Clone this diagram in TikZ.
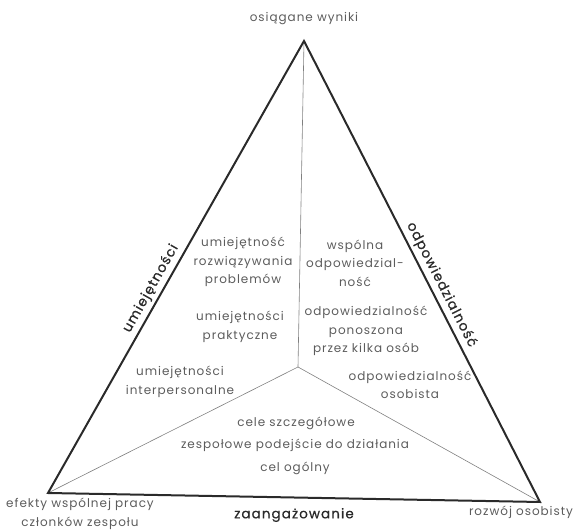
\documentclass[tikz,border=0pt]{standalone}
\usepackage{fontspec}
\setmainfont{Poppins}[LetterSpace=8]
\newfontfamily\tytulfont{Poppins}[LetterSpace=8,FakeBold=0.7]
\usetikzlibrary{positioning}
\definecolor{ctekst}{HTML}{5C5C5C}
\definecolor{cbok}{HTML}{2A2A2A}
\definecolor{clinia}{HTML}{808080}
\tikzset{
  tekst/.style={text=ctekst,align=center,inner sep=1pt,
                font=\fontsize{12}{18.5}\selectfont},
  tytul/.style={text=cbok,inner sep=1pt,font=\tytulfont\fontsize{13.5}{16}\selectfont},
  bok/.style={draw=cbok,line width=2pt,line join=miter},
  linia/.style={draw=clinia,line width=0.6pt},
}

\begin{document}
\begin{tikzpicture}[x=1pt,y=1pt]
\useasboundingbox (0,0) rectangle (574,530);

\coordinate (wierz)  at (304,489);
\coordinate (lewy)   at (48,37);
\coordinate (prawy)  at (540,28);
\coordinate (srodek) at (298,163);

\draw[linia] (wierz) -- (srodek);
\draw[linia] (lewy) -- (srodek);
\draw[linia] (prawy) -- (srodek);
\draw[bok] (wierz) -- (lewy) -- (prawy) -- cycle;

% nazwy bokow
\path (lewy) -- (wierz) node[tytul,pos=0.44,sloped,above=3pt] (umiej) {umiejętności};
\path (wierz) -- (prawy) node[tytul,pos=0.54,sloped,above=3pt] (odpow) {odpowiedzialność};
\node[tytul] (zaang) at (294,15) {zaangażowanie};

\node[tekst] (wyniki)  at (304,511) {osiągane wyniki};
\node[tekst] (efekty)  at (80,16)   {efekty wspólnej pracy\\członków zespołu};
\node[tekst] (rozwoj)  at (521,18)  {rozwój osobisty};

\node[tekst] (problem) at (243,268) {umiejętność\\rozwiązywania\\problemów};
\node[tekst] (prakt)   at (240,203) {umiejętności\\praktyczne};
\node[tekst] (inter)   at (180,148) {umiejętności\\interpersonalne};

\node[tekst] (wspolna) at (355,267) {wspólna\\odpowiedzial-\\ność};
\node[tekst] (kilka)   at (366,199) {odpowiedzialność\\ponoszona\\przez kilka osób};
\node[tekst] (osobista) at (410,145) {odpowiedzialność\\osobista};

\node[tekst] (szczeg)  at (296,107) {cele szczegółowe};
\node[tekst] (podejs)  at (295,85)  {zespołowe podejście do działania};
\node[tekst] (ogolny)  at (295,62)  {cel ogólny};

\end{tikzpicture}
\end{document}
